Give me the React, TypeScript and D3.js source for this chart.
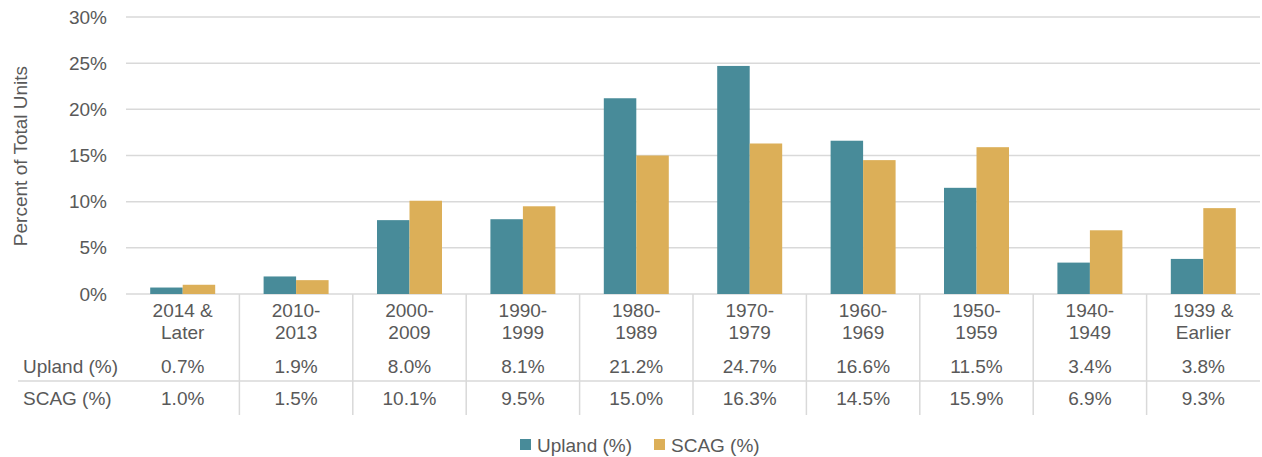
import React from 'react';
import * as d3 from 'd3';

const categories = [
  ['2014 &', 'Later'],
  ['2010-', '2013'],
  ['2000-', '2009'],
  ['1990-', '1999'],
  ['1980-', '1989'],
  ['1970-', '1979'],
  ['1960-', '1969'],
  ['1950-', '1959'],
  ['1940-', '1949'],
  ['1939 &', 'Earlier'],
];
const seriesNames = ['Upland (%)', 'SCAG (%)'];
const uplandValues = [0.7, 1.9, 8.0, 8.1, 21.2, 24.7, 16.6, 11.5, 3.4, 3.8];
const scagValues = [1.0, 1.5, 10.1, 9.5, 15.0, 16.3, 14.5, 15.9, 6.9, 9.3];
const yTicks = [0, 5, 10, 15, 20, 25, 30];

const COLORS = ['#488B99', '#DCAF58'];
const TEXT = '#595959';
const GRID = '#D9D9D9';
const FONT = '"Liberation Sans", Arial, sans-serif';

const W = 1262;
const H = 457;

const App: React.FC = () => {
  const keys = categories.map((c) => c.join(' '));
  const values = [uplandValues, scagValues];

  const x = d3.scaleBand<string>().domain(keys).range([126, 1260]).paddingInner(0).paddingOuter(0);
  const x1 = d3
    .scaleBand<string>()
    .domain(seriesNames)
    .range([0, x.bandwidth()])
    .paddingInner(0)
    .paddingOuter(0.745);
  const y = d3.scaleLinear().domain([0, 30]).range([294, 17]);

  const rowY = [366, 398];

  return (
    <svg width={W} height={H} style={{ position: 'absolute', left: 0, top: 0 }} fontFamily={FONT}>
      {/* gridlines + tick labels */}
      {yTicks.map((t) => (
        <g key={t}>
          <line x1={126} x2={1260} y1={y(t)} y2={y(t)} stroke={GRID} strokeWidth={1.5} />
          <text x={107} y={y(t)} dy="0.35em" textAnchor="end" fontSize={19} fill={TEXT}>
            {t}%
          </text>
        </g>
      ))}
      <text
        transform={`translate(27, ${(60 + 252) / 2}) rotate(-90)`}
        textAnchor="middle"
        fontSize={19}
        fill={TEXT}
      >
        Percent of Total Units
      </text>

      {/* bars */}
      {values.map((vals, si) =>
        vals.map((v, i) => (
          <rect
            key={`${si}-${i}`}
            x={(x(keys[i]) ?? 0) + (x1(seriesNames[si]) ?? 0)}
            y={y(v)}
            width={x1.bandwidth()}
            height={y(0) - y(v)}
            fill={COLORS[si]}
          />
        ))
      )}

      {/* data table */}
      <line x1={18} x2={1260} y1={381} y2={381} stroke={GRID} strokeWidth={1.5} />
      {keys.slice(1).map((k) => (
        <line key={k} x1={x(k)} x2={x(k)} y1={294} y2={415} stroke={GRID} strokeWidth={1.5} />
      ))}
      {categories.map((c, i) => (
        <text key={keys[i]} x={(x(keys[i]) ?? 0) + x.bandwidth() / 2} textAnchor="middle" fontSize={19} fill={TEXT}>
          <tspan x={(x(keys[i]) ?? 0) + x.bandwidth() / 2} y={317}>
            {c[0]}
          </tspan>
          <tspan x={(x(keys[i]) ?? 0) + x.bandwidth() / 2} y={339}>
            {c[1]}
          </tspan>
        </text>
      ))}
      {seriesNames.map((s, si) => (
        <g key={s}>
          <text x={23} y={rowY[si]} dy="0.35em" fontSize={19} fill={TEXT}>
            {s}
          </text>
          {values[si].map((v, i) => (
            <text
              key={i}
              x={(x(keys[i]) ?? 0) + x.bandwidth() / 2}
              y={rowY[si]}
              dy="0.35em"
              textAnchor="middle"
              fontSize={19}
              fill={TEXT}
            >
              {v.toFixed(1)}%
            </text>
          ))}
        </g>
      ))}

      {/* legend */}
      {seriesNames.map((s, si) => {
        const lx = [520, 654][si];
        return (
          <g key={s}>
            <rect x={lx} y={439} width={11} height={11} fill={COLORS[si]} />
            <text x={lx + 17} y={445} dy="0.35em" fontSize={19} fill={TEXT}>
              {s}
            </text>
          </g>
        );
      })}
    </svg>
  );
};

export default App;
